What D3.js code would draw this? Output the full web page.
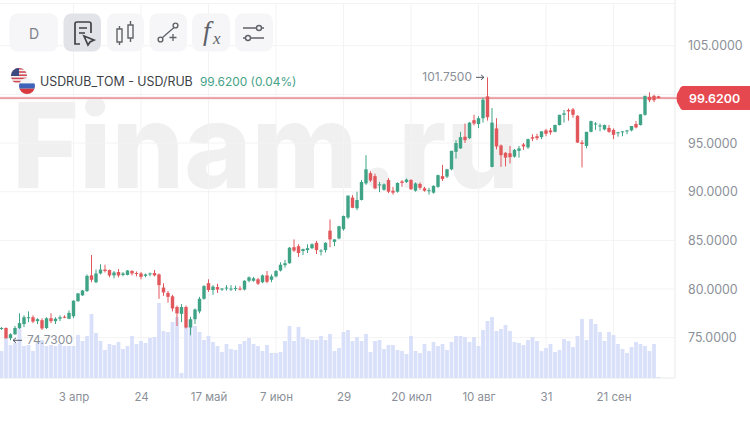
<!DOCTYPE html>
<html>
<head>
<meta charset="utf-8">
<script src="https://cdn.jsdelivr.net/npm/d3@7/dist/d3.min.js"></script>
<style>
  html, body { margin: 0; padding: 0; background: #fff; }
  svg { display: block; font-family: Inter, "Noto Sans", sans-serif; }
</style>
</head>
<body>
<div id="chart"></div>
<script>
// Daily USD/RUB candles: one entry per trading session.
const opens = [75.9,76.0,74.95,75.35,76.0,76.4,77.0,77.1,76.7,76.8,76.0,77.0,76.7,76.95,77.15,76.95,77.2,78.75,79.35,79.8,81.4,80.7,81.6,82,81.95,81.4,81.75,81.45,81.45,81.85,81.65,81.6,81.35,81.5,81.65,81.5,80.15,79.6,79.25,78.15,77.45,78.15,76.05,76.9,77.7,79,80.6,79.9,80.2,79.95,80.05,80.0,80,80.05,79.95,80.85,80.85,81,80.7,81.4,80.95,81.3,81.9,82.45,82.65,84.3,84.4,83.9,84,84.2,84.75,83.85,84,86,84.85,85.2,86.15,87.35,89.4,88.3,89.15,90.85,91.9,91.6,90.65,90.2,91.2,90.1,90,91.05,91,91.2,90.1,90.8,90.35,90.05,89.9,90.5,91.6,91.55,92.3,94.1,94.45,95.65,95.5,97.35,96.95,97.55,99.8,92.55,96.5,94.75,94,93.95,93.6,94.2,94.85,94.55,95.6,95.7,95.6,96.3,96.3,96.15,96.85,97.9,98.4,98.45,97.8,95.05,94.7,96.15,96.9,96.7,96.4,96.55,96.35,96,96.1,96.2,96.3,96.95,96.85,97.9,99.75,99.85,99.8];
const highs = [76.1,76.05,75.45,76.2,77.5,77.3,77.7,77.3,77.0,77.0,77.1,77.5,77.1,77.3,77.3,77.8,78.85,79.6,79.9,81.5,83.5,82,82.55,82.5,82,81.85,82.05,81.75,81.95,81.95,81.8,81.75,81.6,81.7,81.95,81.6,80.6,79.8,79.4,78.3,78.45,78.3,77.15,78,79.2,80.4,81,80.4,80.55,80.1,80.4,80.4,80.35,80.3,80.9,81.3,81.25,81.15,81.5,81.85,81.5,81.95,82.75,83,84.3,85.1,84.6,84.15,84.6,84.7,84.95,84.1,84.8,87.15,85.1,86.5,87.55,89.6,89.65,90,91.2,93.75,92.1,91.85,91,90.85,91.4,90.5,90.95,91.2,91.35,91.3,90.95,90.95,90.5,90.4,90.65,91.75,92.75,92.35,94.2,95.3,96.15,97,97.15,97.9,97.75,99.65,101.75,98.6,97.55,94.85,94.05,94.7,94.4,94.7,95,95.45,95.9,95.95,96.2,96.45,96.55,96.9,97.9,98.4,98.55,98.6,97.85,95.3,96.15,97.3,97.15,97,96.9,96.85,96.5,96.15,96.2,96.35,96.75,97.25,97.95,99.85,100.2,99.95,99.85];
const lows = [75.8,74.9,74.73,75.3,75.9,76.1,76.6,76.5,76.4,75.8,75.9,76.5,76.4,76.7,77.0,76.9,77.0,78.7,79.3,79.7,80.7,80.6,81.5,81.7,81.2,81.1,81.2,81.3,81.4,81.4,81.3,81,81.2,81.3,81.3,79,79.3,78.6,77.7,76.2,76.6,75.95,75.25,76.4,77.5,78.9,79.7,79.4,79.6,79.8,79.85,79.8,79.8,79.85,79.85,80.7,80.75,80.4,80.6,80.6,80.7,81.2,81.8,82.2,82.6,83.8,83.3,83.5,83.7,84.1,83.6,83.45,83.75,84.3,84.4,85.1,86,87.2,88.3,88.1,89.1,90.7,91,90.25,89.95,90.1,89.85,89.7,89.9,90.5,90.9,90.2,90,90.2,90,89.7,89.8,90.4,91.1,91.4,92.2,93.4,94.4,95,95.4,96.8,96.55,97.1,97.3,92.5,94.35,92.55,92.6,92.9,93.5,93.5,94.3,94.4,95.2,95.3,95.4,95.7,95.85,96.1,96.8,97.1,97.3,97.6,95,92.5,94.45,96.1,96.35,96.2,96.3,96.05,95.4,95.65,95.7,95.9,96.2,96.5,96.8,97.8,99.2,99.2,99.6];
const closes = [76.0,74.95,75.35,76.0,76.5,77.1,77.1,76.65,76.9,75.95,77.0,76.7,76.95,77.1,77.1,77.55,78.8,79.55,79.85,81.35,80.95,81.6,82,81.85,81.4,81.7,81.4,81.6,81.9,81.6,81.55,81.25,81.5,81.6,81.4,80.4,79.65,79.2,78,77.5,78.15,76.05,76.9,77.9,79,80.3,79.9,80.25,79.95,80.05,80.15,80.05,80.1,79.95,80.85,81.2,81.1,80.55,81.4,80.75,81.3,81.85,82.5,82.65,84.25,83.95,83.7,84.1,84.2,84.6,84,83.95,84.75,85.1,85.1,86.45,87.5,89.6,88.35,89.15,91,92.3,91.15,90.35,90.75,90.75,90,89.9,90.9,90.9,91.25,90.25,90.85,90.4,90.1,90.15,90.6,91.7,91.3,92.3,94.2,95,95.6,95.3,97.1,97,97.55,99.45,97.65,97.1,94.65,93.75,93.5,93.55,94.3,94.45,94.65,95.4,95.45,95.5,96.2,95.95,96.1,96.85,97.9,98.05,98.25,97.9,95.05,94.9,96.15,97.25,97,96.8,96.85,96.15,95.85,96.1,96.2,96.3,96.75,96.6,97.95,99.85,99.4,99.4,99.62];
const volumes = [27,40,33,35,50,32,33,27,37,38,32,33,32,34,32,32,32,43,37,42,64,45,37,28,34,33,36,29,32,42,34,37,35,40,41,75,47,46,56,61,5,52,58,52,46,38,42,36,32,26,34,29,28,34,37,40,34,32,27,33,25,25,26,37,52,37,51,41,39,38,38,42,38,44,27,30,46,48,37,41,37,44,26,37,38,29,33,33,28,27,24,42,27,25,34,27,36,32,34,28,36,42,42,41,36,41,32,48,57,61,47,49,53,47,36,35,33,38,41,37,27,30,34,26,28,39,37,31,42,59,38,59,54,46,37,46,43,34,29,25,31,36,34,32,27,34,1];

// Bottom axis ticks: session index and its label.
const dateTickIndex = [16,31,46,61,76,91,106,121,136];
const dateTickLabels = ["3 апр","24","17 май","7 июн","29","20 июл","10 авг","31","21 сен"];
const priceTicks = [75,80,85,90,95,100,105];
const priceTickLabels = [75,80,85,90,95,105];

const instrumentName = "USDRUB_TOM - USD/RUB";
const changeLabel = "99.6200 (0.04%)";

const width = 750, height = 438;
const plotRight = 675, plotBottom = 378;
const GREEN = "#3fa386", RED = "#e2575c", AXIS_TEXT = "#8b8f98", GRID = "#f3f3f4";

const svg = d3.select("#chart").append("svg")
  .attr("width", width).attr("height", height).attr("viewBox", [0, 0, width, height]);

const x = d3.scaleLinear().domain([0, opens.length - 1]).range([1.5, 658.5]);
const y = d3.scaleLinear().domain([75, 105]).range([337.7, 45.7]);
const yVol = d3.scaleLinear().domain([0, 80]).range([plotBottom, plotBottom - 80]);

// Watermark sits underneath everything else.
svg.append("text")
  .attr("x", 12).attr("y", 188)
  .attr("font-size", 118).attr("font-weight", 800)
  .attr("textLength", 507).attr("lengthAdjust", "spacingAndGlyphs")
  .attr("fill", "#f0f0f1")
  .text("Finam.ru");

// Grid
svg.append("g").selectAll("line").data(dateTickIndex).join("line")
  .attr("x1", d => x(d)).attr("x2", d => x(d))
  .attr("y1", 3).attr("y2", plotBottom)
  .attr("stroke", GRID);
svg.append("g").selectAll("line").data(priceTicks).join("line")
  .attr("x1", 0).attr("x2", plotRight)
  .attr("y1", d => y(d)).attr("y2", d => y(d))
  .attr("stroke", GRID);
svg.append("line").attr("x1", 0).attr("x2", plotRight).attr("y1", 3.5).attr("y2", 3.5).attr("stroke", GRID);
svg.append("line").attr("x1", plotRight).attr("x2", plotRight).attr("y1", 0).attr("y2", plotBottom).attr("stroke", "#e9eaec");
svg.append("line").attr("x1", 0).attr("x2", plotRight).attr("y1", plotBottom).attr("y2", plotBottom).attr("stroke", "#e9eaec");

// Volume bars
svg.append("g").selectAll("rect").data(volumes).join("rect")
  .attr("x", (d, i) => x(i) - 1.9)
  .attr("width", 3.8)
  .attr("y", d => yVol(d))
  .attr("height", d => plotBottom - yVol(d))
  .attr("fill", "#d9e0fa");

// Last price line runs behind the candles
const lastPrice = closes[closes.length - 1];
svg.append("line").attr("x1", 0).attr("x2", plotRight + 4)
  .attr("y1", y(lastPrice)).attr("y2", y(lastPrice))
  .attr("stroke", "#fae9ea").attr("stroke-width", 3);
svg.append("line").attr("x1", 0).attr("x2", plotRight + 4)
  .attr("y1", y(lastPrice)).attr("y2", y(lastPrice))
  .attr("stroke", "#dc6066").attr("stroke-width", 1);

// Candles
const candles = d3.range(opens.length).map(i => ({
  i, open: opens[i], high: highs[i], low: lows[i], close: closes[i]
}));
const candleColor = d => d.close >= d.open ? GREEN : RED;
const candle = svg.append("g").selectAll("g").data(candles).join("g");
candle.append("line")
  .attr("x1", d => x(d.i)).attr("x2", d => x(d.i))
  .attr("y1", d => y(d.high)).attr("y2", d => y(d.low))
  .attr("stroke", candleColor).attr("stroke-width", 1);
candle.append("rect")
  .attr("x", d => x(d.i) - 1.7)
  .attr("width", 3.4)
  .attr("y", d => y(Math.max(d.open, d.close)))
  .attr("height", d => Math.max(1, Math.abs(y(d.open) - y(d.close))))
  .attr("fill", candleColor);

// Axes
const fmt = d3.format(".4f");
const xAxis = d3.axisBottom(x).tickValues(dateTickIndex)
  .tickFormat((d, i) => dateTickLabels[i]).tickSize(0).tickPadding(15);
const gx = svg.append("g").attr("transform", `translate(0,${plotBottom})`).call(xAxis);
const yAxis = d3.axisRight(y).tickValues(priceTickLabels).tickFormat(fmt).tickSize(0).tickPadding(0);
const gy = svg.append("g").attr("transform", "translate(688,0)").call(yAxis);
[gx, gy].forEach(g => {
  g.select(".domain").remove();
  g.selectAll("text").attr("fill", AXIS_TEXT).attr("font-size", 11.5).attr("font-family", "Inter, sans-serif");
});
gy.selectAll("text").attr("font-size", 12.4);

// Last price badge
const by = y(lastPrice);
svg.append("path")
  .attr("d", `M750 ${by - 12}H683q-1.5 0 -2.5 1.5L677 ${by - 4}q-.8 4 0 8l3.500 6.500q1 1.500 2.500 1.500H750Z`)
  .attr("fill", "#e5494f");
svg.append("text").attr("x", 689).attr("y", by + 4.5)
  .attr("font-size", 12.4).attr("font-weight", 600).attr("fill", "#fff")
  .text(fmt(lastPrice));

// Extreme labels
const maxHigh = d3.max(highs), minLow = d3.min(lows);
const note = svg.append("g").attr("font-size", 12).attr("fill", AXIS_TEXT);
note.append("text").attr("x", 472).attr("y", y(maxHigh) + 4).attr("text-anchor", "end").text(fmt(maxHigh));
note.append("path")
  .attr("d", `M476 ${y(maxHigh)}H484M481 ${y(maxHigh) - 2.5}L484 ${y(maxHigh)}L481 ${y(maxHigh) + 2.5}`)
  .attr("fill", "none").attr("stroke", "#555a63");
note.append("text").attr("x", 27).attr("y", y(minLow) + 4).text(fmt(minLow));
note.append("path")
  .attr("d", `M22 ${y(minLow)}H13M16 ${y(minLow) - 2.5}L13 ${y(minLow)}L16 ${y(minLow) + 2.5}`)
  .attr("fill", "none").attr("stroke", "#555a63");

// Toolbar
const buttons = [[9.5,48.5,"#f6f6f8"],[63.5,37.5,"#e2e3e8"],[107,37,"#f6f6f8"],[149.5,37.5,"#f6f6f8"],[192,38,"#f6f6f8"],[235,38,"#f6f6f8"]];
const toolbar = svg.append("g");
toolbar.selectAll("rect").data(buttons).join("rect")
  .attr("x", d => d[0]).attr("y", 13.5).attr("width", d => d[1]).attr("height", 38).attr("rx", 8)
  .attr("fill", d => d[2]);
toolbar.append("text").attr("x", 34).attr("y", 38.5).attr("text-anchor", "middle")
  .attr("font-size", 14).attr("fill", "#7e8188").text("D");
const icons = toolbar.append("g").attr("fill", "none").attr("stroke", "#5f6268").attr("stroke-width", 1.4);
icons.append("path").attr("stroke", "#3f4248").attr("stroke-width", 1.7)
  .attr("d", "M80 44H75V24q0-2 2-2H89q2 0 2 2V33M79 28H87M79 33H85");
icons.append("path").attr("stroke", "#3f4248").attr("stroke-width", 1.7)
  .attr("d", "M84 36L94 40L90 42L88 45Z");
icons.append("path").attr("d", "M117 29h5v13h-5zM119.500 26v3M119.500 42v3M128 25h5v13h-5zM130.500 21v4M130.500 38v4");
icons.append("path").attr("d", "M162 38L174 27.500M169.500 37.500h7M173 34v7").attr("stroke-width", 1.3);
icons.append("circle").attr("cx", 160.500).attr("cy", 39.500).attr("r", 2.4);
icons.append("circle").attr("cx", 175.500).attr("cy", 25.500).attr("r", 2.4);
toolbar.append("text").attr("x", 203).attr("y", 40).attr("font-family", "'Liberation Serif', serif").attr("font-style", "italic")
  .attr("font-size", 27).attr("fill", "#5f6268").text("f");
toolbar.append("text").attr("x", 213).attr("y", 44).attr("font-family", "'Liberation Serif', serif").attr("font-style", "italic")
  .attr("font-size", 17).attr("fill", "#5f6268").text("x");
icons.append("path").attr("d", "M243 28H264M243 38H264").attr("stroke-width", 1.3);
icons.append("circle").attr("cx", 259).attr("cy", 28).attr("r", 2.5).attr("fill", "#f6f6f8");
icons.append("circle").attr("cx", 248).attr("cy", 38).attr("r", 2.5).attr("fill", "#f6f6f8");

// Instrument header with overlapping US and Russian flag discs
const defs = svg.append("defs");
defs.append("clipPath").attr("id", "usDisc").append("circle").attr("cx", 19).attr("cy", 76).attr("r", 8);
defs.append("clipPath").attr("id", "ruDisc").append("circle").attr("cx", 27).attr("cy", 86).attr("r", 8);
const us = svg.append("g").attr("clip-path", "url(#usDisc)");
us.append("rect").attr("x", 11).attr("y", 68).attr("width", 16).attr("height", 16).attr("fill", "#f4f4f6");
us.selectAll(".s").data([68, 71.2, 74.4, 77.6, 80.8]).join("rect").attr("class", "s")
  .attr("x", 11).attr("y", d => d).attr("width", 16).attr("height", 1.6).attr("fill", "#cf4a54");
us.append("rect").attr("x", 11).attr("y", 68).attr("width", 8).attr("height", 8).attr("fill", "#3c4a80");
const ru = svg.append("g").attr("clip-path", "url(#ruDisc)");
ru.append("rect").attr("x", 19).attr("y", 78).attr("width", 16).attr("height", 5.4).attr("fill", "#f4f4f6");
ru.append("rect").attr("x", 19).attr("y", 83.4).attr("width", 16).attr("height", 5.3).attr("fill", "#3d62b8");
ru.append("rect").attr("x", 19).attr("y", 88.7).attr("width", 16).attr("height", 5.3).attr("fill", "#d8393f");

svg.append("text").attr("x", 40).attr("y", 85.500).attr("font-size", 12.4)
  .attr("fill", "#3c3f46").text(instrumentName);
svg.append("text").attr("x", 200).attr("y", 85.500).attr("font-size", 11.9)
  .attr("fill", "#46a288").text(changeLabel);
</script>
</body>
</html>
